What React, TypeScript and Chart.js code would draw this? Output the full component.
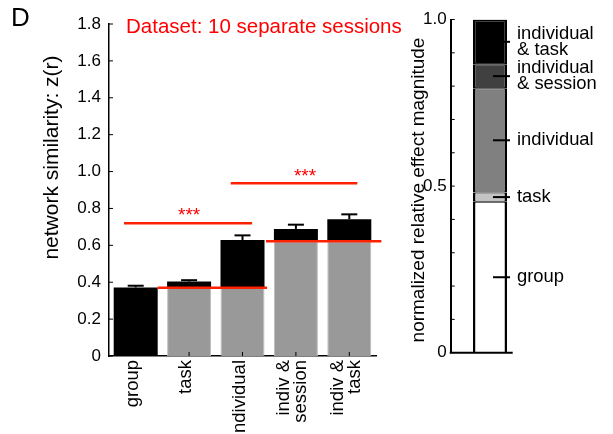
import React, { useEffect, useRef } from 'react';
import { Chart, registerables } from 'chart.js';

Chart.register(...registerables);

const FONT = '"Liberation Sans", Arial, Helvetica, sans-serif';

// ---------- Left panel data ----------
const categories: string[][] = [['group'], ['task'], ['individual'], ['indiv &', 'session'], ['indiv &', 'task']];
const baseValues = [0, 0.37, 0.37, 0.622, 0.622];
const totalValues = [0.372, 0.404, 0.629, 0.689, 0.741];
const errorTops = [0.381, 0.411, 0.654, 0.712, 0.768];
const leftTickValues = [0, 0.2, 0.4, 0.6, 0.8, 1.0, 1.2, 1.4, 1.6, 1.8];
const leftTickLabels = ['0', '0.2', '0.4', '0.6', '0.8', '1.0', '1.2', '1.4', '1.6', '1.8'];

// red reference lines (value, from category index, to category index)
const refLineValues = [0.37, 0.622];
const refLineFrom = [0.41, 2.44];
const refLineTo = [2.46, 4.6];

// significance brackets
const sigValues = [0.72, 0.937];
const sigFrom = [-0.22, 1.78];
const sigTo = [2.18, 4.15];
const sigStarValues = [0.79, 1.005];
const sigStarAt = [1.0, 3.17];
const sigText = ['***', '***'];

const titleText = 'Dataset: 10 separate sessions';
const panelLetter = 'D';
const leftYTitle = 'network similarity: z(r)';

// ---------- Right panel data ----------
const effectNames = ['group', 'task', 'individual', 'individual & session', 'individual & task'];
const effectLabelLines: string[][] = [['group'], ['task'], ['individual'], ['individual', '& session'], ['individual', '& task']];
const effectValues = [0.453, 0.028, 0.313, 0.072, 0.134];
const effectColors = ['#ffffff', '#c4c4c4', '#808080', '#404040', '#000000'];
const rightTickValues = [0, 0.1, 0.2, 0.3, 0.4, 0.5, 0.6, 0.7, 0.8, 0.9, 1.0];
const rightTickLabels = ['0', '', '', '', '', '0.5', '', '', '', '', '1.0'];
const rightYTitle = 'normalized relative effect magnitude';

function line(ctx: CanvasRenderingContext2D, x0: number, y0: number, x1: number, y1: number) {
  ctx.beginPath();
  ctx.moveTo(x0, y0);
  ctx.lineTo(x1, y1);
  ctx.stroke();
}

const leftPlugin = {
  id: 'leftDecor',
  afterDatasetsDraw(chart: any) {
    const { ctx, chartArea } = chart;
    const x = chart.scales.x;
    const y = chart.scales.y;
    ctx.save();
    // inward x ticks
    ctx.strokeStyle = '#000';
    ctx.lineWidth = 1;
    categories.forEach((_, i) => {
      const px = x.getPixelForValue(i);
      line(ctx, px, chartArea.bottom, px, chartArea.bottom - 4);
    });
    // error bars
    ctx.lineWidth = 2;
    totalValues.forEach((t, i) => {
      const px = x.getPixelForValue(i);
      const y0 = y.getPixelForValue(t);
      const y1 = y.getPixelForValue(errorTops[i]);
      line(ctx, px, y0, px, y1);
      line(ctx, px - 8, y1, px + 8, y1);
    });
    // red reference lines
    ctx.strokeStyle = 'rgb(255,34,0)';
    ctx.lineWidth = 2.5;
    refLineValues.forEach((v, i) => {
      const py = y.getPixelForValue(v);
      line(ctx, x.getPixelForValue(refLineFrom[i]), py, x.getPixelForValue(refLineTo[i]), py);
    });
    sigValues.forEach((v, i) => {
      const py = y.getPixelForValue(v);
      line(ctx, x.getPixelForValue(sigFrom[i]), py, x.getPixelForValue(sigTo[i]), py);
    });
    ctx.fillStyle = '#ff0000';
    ctx.font = `19px ${FONT}`;
    ctx.textAlign = 'center';
    ctx.textBaseline = 'alphabetic';
    sigStarValues.forEach((v, i) => {
      ctx.fillText(sigText[i], x.getPixelForValue(sigStarAt[i]), y.getPixelForValue(v) + 11);
    });
    ctx.restore();
  },
  afterDraw(chart: any) {
    const { ctx, chartArea } = chart;
    const x = chart.scales.x;
    const y = chart.scales.y;
    ctx.save();
    // inward y ticks
    ctx.strokeStyle = '#000';
    ctx.lineWidth = 1;
    leftTickValues.forEach((v) => {
      const py = y.getPixelForValue(v);
      line(ctx, chartArea.left, py, chartArea.left + 4, py);
    });
    // rotated category labels
    ctx.fillStyle = '#000';
    ctx.font = `18.5px ${FONT}`;
    ctx.textAlign = 'right';
    ctx.textBaseline = 'middle';
    categories.forEach((lines, i) => {
      const px = x.getPixelForValue(i) - 3;
      const n = lines.length;
      lines.forEach((t, j) => {
        const lx = px + (j - (n - 1) / 2) * 17;
        ctx.save();
        ctx.translate(lx, chartArea.bottom + 4);
        ctx.rotate(-Math.PI / 2);
        ctx.fillText(t, 0, 0);
        ctx.restore();
      });
    });
    // y title
    ctx.save();
    ctx.font = `21px ${FONT}`;
    ctx.textAlign = 'center';
    ctx.textBaseline = 'middle';
    ctx.translate(52, 157.5);
    ctx.rotate(-Math.PI / 2);
    ctx.fillText(leftYTitle, 0, 0);
    ctx.restore();
    // title
    ctx.fillStyle = '#ff0000';
    ctx.font = `20.5px ${FONT}`;
    ctx.textAlign = 'left';
    ctx.textBaseline = 'alphabetic';
    ctx.fillText(titleText, 126, 33);
    // panel letter
    ctx.fillStyle = '#000';
    ctx.font = `26px ${FONT}`;
    ctx.fillText(panelLetter, 11, 26);
    ctx.restore();
  },
};

const rightPlugin = {
  id: 'rightDecor',
  afterDraw(chart: any) {
    const { ctx, chartArea } = chart;
    const y = chart.scales.y;
    ctx.save();
    ctx.strokeStyle = '#000';
    // inward y ticks
    ctx.lineWidth = 1;
    rightTickValues.forEach((v) => {
      const py = y.getPixelForValue(v);
      line(ctx, chartArea.left, py, chartArea.left + 4, py);
    });
    // bottom axis line
    ctx.lineWidth = 2;
    line(ctx, chartArea.left - 1, chartArea.bottom, chartArea.left + 62, chartArea.bottom);
    // effect label ticks and labels
    const bar = chart.getDatasetMeta(0).data[0];
    const cx = bar.x;
    ctx.font = `18.4px ${FONT}`;
    ctx.fillStyle = '#000';
    ctx.textAlign = 'left';
    ctx.textBaseline = 'middle';
    let acc = 0;
    effectValues.forEach((v, i) => {
      const mid = acc + v / 2;
      acc += v;
      const py = y.getPixelForValue(mid);
      ctx.lineWidth = 2;
      line(ctx, cx + 3, py, cx + 20, py);
      const lines = effectLabelLines[i];
      const n = lines.length;
      lines.forEach((t, j) => {
        ctx.fillText(t, cx + 27, py + (j - (n - 1) / 2) * 16);
      });
    });
    // y title
    ctx.save();
    ctx.font = `19px ${FONT}`;
    ctx.textAlign = 'center';
    ctx.textBaseline = 'middle';
    ctx.translate(19, 190);
    ctx.rotate(-Math.PI / 2);
    ctx.fillText(rightYTitle, 0, 0);
    ctx.restore();
    ctx.restore();
  },
};

export default function App() {
  const leftRef = useRef<HTMLCanvasElement>(null);
  const rightRef = useRef<HTMLCanvasElement>(null);

  useEffect(() => {
    const left = new Chart(leftRef.current as HTMLCanvasElement, {
      type: 'bar',
      data: {
        labels: categories.map((c) => c.join(' ')),
        datasets: [
          {
            label: 'baseline',
            data: baseValues.map((b) => [0, b]) as any,
            backgroundColor: '#999999',
            borderColor: '#bdbdbd',
            borderWidth: (c: any) => (baseValues[c.dataIndex] > 0 ? 1 : 0),
            borderSkipped: 'start',
            grouped: false,
            barPercentage: 0.824,
            categoryPercentage: 1,
          } as any,
          {
            label: 'increment',
            data: baseValues.map((b, i) => [b, totalValues[i]]) as any,
            backgroundColor: '#000000',
            borderWidth: 0,
            grouped: false,
            barPercentage: 0.824,
            categoryPercentage: 1,
          } as any,
        ],
      },
      options: {
        responsive: false,
        animation: false,
        layout: { padding: { left: 0, right: 237, top: 24, bottom: 0 } },
        plugins: { legend: { display: false }, tooltip: { enabled: false }, title: { display: false } },
        scales: {
          x: {
            type: 'category',
            offset: true,
            grid: { display: false, drawTicks: false },
            border: { display: true, color: '#000', width: 1.5 },
            ticks: { display: false },
            afterFit: (s: any) => {
              s.height = 78;
            },
          },
          y: {
            min: 0,
            max: 1.8,
            grid: { display: false, drawTicks: false },
            border: { display: true, color: '#000', width: 1.5 },
            ticks: {
              color: '#000',
              padding: 8,
              font: { family: FONT, size: 17 },
              callback: (v: any) => {
                const k = leftTickValues.findIndex((t) => Math.abs(t - v) < 1e-6);
                return k >= 0 ? leftTickLabels[k] : '';
              },
            },
            afterBuildTicks: (s: any) => {
              s.ticks = leftTickValues.map((v) => ({ value: v }));
            },
            afterFit: (s: any) => {
              s.width = 109;
            },
          },
        },
      } as any,
      plugins: [leftPlugin],
    });

    const right = new Chart(rightRef.current as HTMLCanvasElement, {
      type: 'bar',
      data: {
        labels: ['effects'],
        datasets: effectNames.map((name, i) => ({
          label: name,
          data: [effectValues[i]],
          backgroundColor: effectColors[i],
          borderColor: '#000',
          borderWidth: {
            left: 2.5,
            right: 2.5,
            top: i === effectNames.length - 1 ? 2 : 1,
            bottom: i === 0 ? 0 : 1,
          },
          borderSkipped: false,
          barPercentage: 0.433,
          categoryPercentage: 1,
        })) as any,
      },
      options: {
        responsive: false,
        animation: false,
        layout: { padding: { left: 0, right: 83.7, top: 19.5, bottom: 0 } },
        plugins: { legend: { display: false }, tooltip: { enabled: false }, title: { display: false } },
        scales: {
          x: {
            stacked: true,
            offset: true,
            grid: { display: false, drawTicks: false },
            border: { display: false },
            ticks: { display: false },
            afterFit: (s: any) => {
              s.height = 81.3;
            },
          },
          y: {
            stacked: true,
            min: 0,
            max: 1,
            grid: { display: false, drawTicks: false },
            border: { display: true, color: '#000', width: 2 },
            ticks: {
              color: '#000',
              padding: 4,
              autoSkip: false,
              font: { family: FONT, size: 17 },
              callback: (v: any) => {
                const k = rightTickValues.findIndex((t) => Math.abs(t - v) < 1e-6);
                return k >= 0 ? rightTickLabels[k] : '';
              },
            },
            afterBuildTicks: (s: any) => {
              s.ticks = rightTickValues.map((v) => ({ value: v }));
            },
            afterFit: (s: any) => {
              s.width = 50.7;
            },
          },
        },
      } as any,
      plugins: [rightPlugin],
    });

    return () => {
      left.destroy();
      right.destroy();
    };
  }, []);

  return (
    <div style={{ position: 'fixed', left: 0, top: 0, width: 613, height: 434, background: '#fff' }}>
      <canvas
        ref={leftRef}
        width={613}
        height={434}
        style={{ position: 'absolute', left: 0, top: 0, width: 613, height: 434, display: 'block' }}
      />
      <canvas
        ref={rightRef}
        width={213}
        height={434}
        style={{ position: 'absolute', left: 400, top: 0, width: 213, height: 434, display: 'block' }}
      />
    </div>
  );
}
